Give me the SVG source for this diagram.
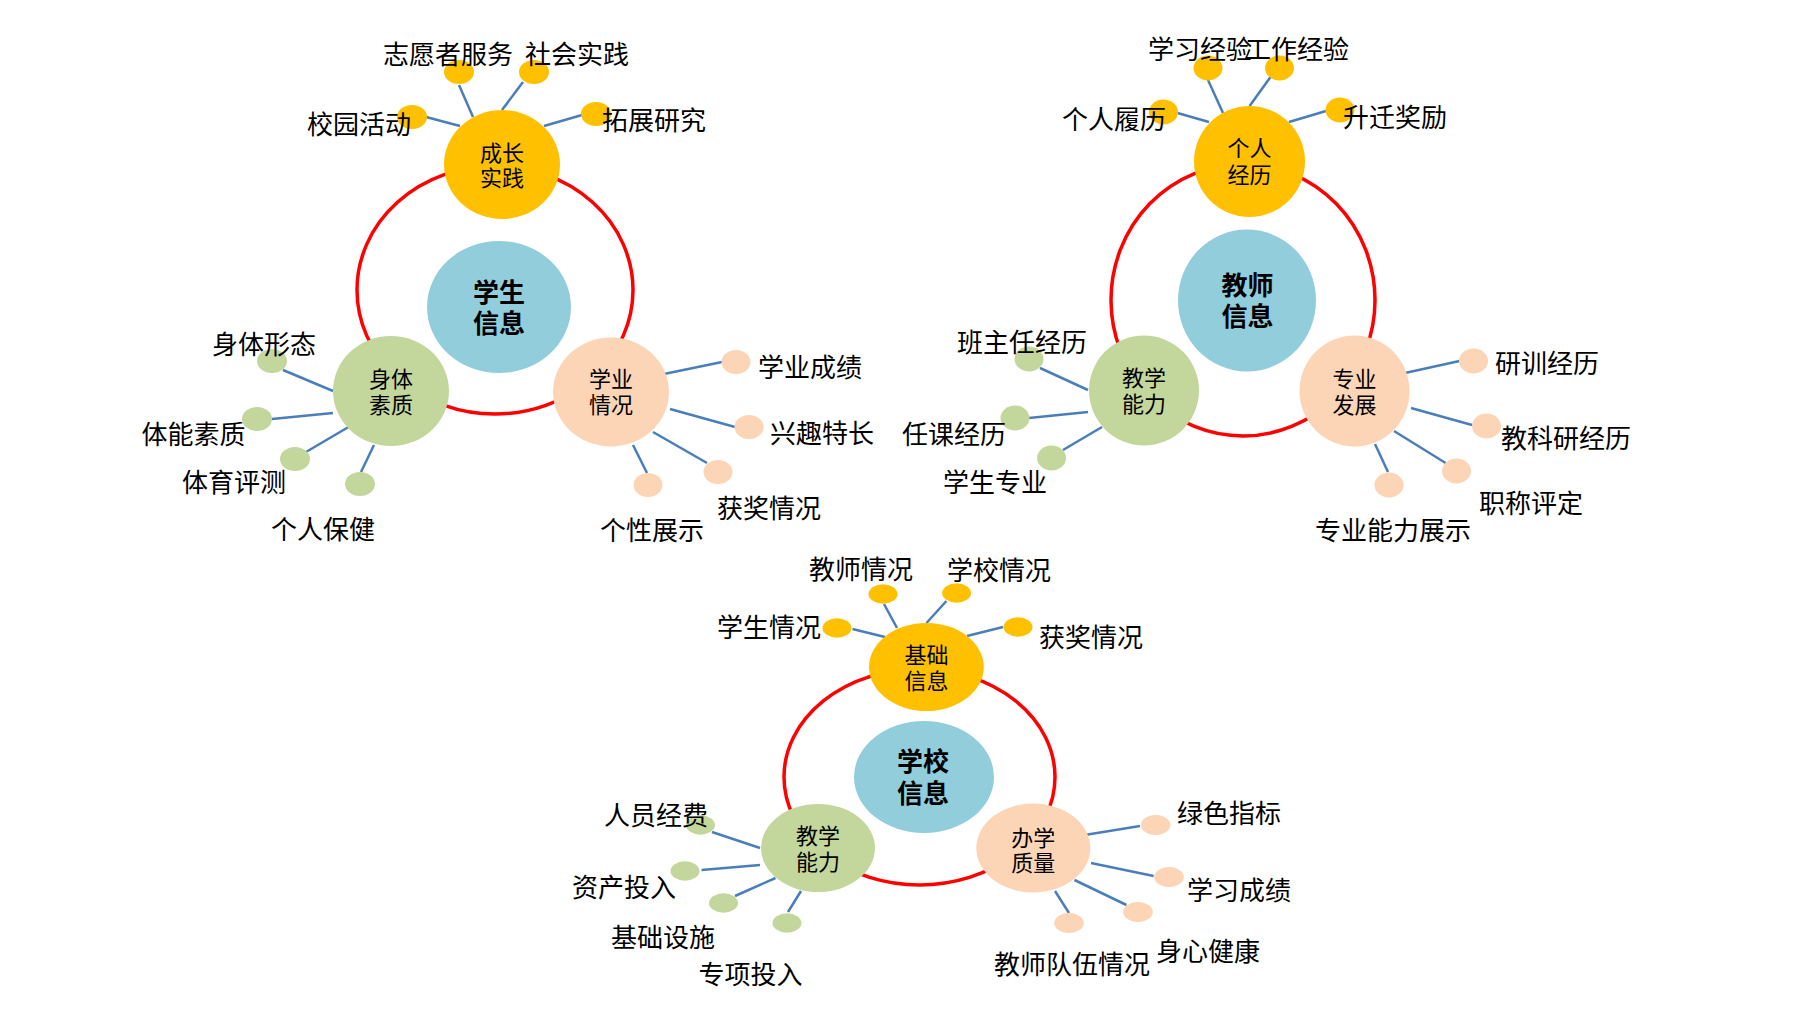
<svg xmlns="http://www.w3.org/2000/svg" width="1798" height="1029" viewBox="0 0 1798 1029">
<style>
.ring{fill:none;stroke:#FF0000;stroke-width:3.5}
.ln{stroke:#4A7EBB;stroke-width:2.5;fill:none}
.org{fill:#FFC000}
.grn{fill:#C3D69B}
.pch{fill:#FBD5B5}
.blu{fill:#92CDDC}
text{font-family:"Noto Sans CJK SC","Noto Sans",sans-serif;fill:#000}
.lb{font-size:26px}
.nd{font-size:22px;text-anchor:middle}
.ct{font-size:26px;font-weight:bold;text-anchor:middle}
</style>
<rect width="1798" height="1029" fill="#FFFFFF"/>
<g id="rings">
<ellipse class="ring" cx="495" cy="290" rx="138" ry="124"/>
<ellipse class="ring" cx="1243" cy="300" rx="132" ry="136"/>
<ellipse class="ring" cx="919.5" cy="777" rx="135.5" ry="108"/>
</g>
<g id="connectors">
<line class="ln" x1="459" y1="85" x2="473" y2="117"/>
<line class="ln" x1="523" y1="82" x2="502" y2="110"/>
<line class="ln" x1="426" y1="117" x2="460" y2="126"/>
<line class="ln" x1="582" y1="115" x2="544" y2="126"/>
<line class="ln" x1="283" y1="370" x2="333" y2="391"/>
<line class="ln" x1="272" y1="419" x2="333" y2="413"/>
<line class="ln" x1="306" y1="452" x2="348.5" y2="427"/>
<line class="ln" x1="361" y1="472" x2="374" y2="445"/>
<line class="ln" x1="664" y1="374" x2="722" y2="362"/>
<line class="ln" x1="670" y1="409" x2="735" y2="427"/>
<line class="ln" x1="653" y1="432" x2="707" y2="463"/>
<line class="ln" x1="633" y1="445" x2="647" y2="473"/>
<line class="ln" x1="1208" y1="80" x2="1223" y2="113"/>
<line class="ln" x1="1270.5" y1="77" x2="1249.6" y2="106"/>
<line class="ln" x1="1177.5" y1="113" x2="1209" y2="122"/>
<line class="ln" x1="1326" y1="111" x2="1289" y2="122"/>
<line class="ln" x1="1040" y1="368" x2="1088" y2="390"/>
<line class="ln" x1="1029" y1="418" x2="1088" y2="412"/>
<line class="ln" x1="1063" y1="450" x2="1102" y2="427"/>
<line class="ln" x1="1405" y1="373" x2="1459.5" y2="361"/>
<line class="ln" x1="1411" y1="408" x2="1472" y2="425"/>
<line class="ln" x1="1394" y1="431" x2="1445.6" y2="463"/>
<line class="ln" x1="1375" y1="444" x2="1388" y2="472"/>
<line class="ln" x1="884" y1="604" x2="897" y2="628"/>
<line class="ln" x1="946.4" y1="601" x2="926.5" y2="623"/>
<line class="ln" x1="852.5" y1="629" x2="885" y2="637"/>
<line class="ln" x1="1003" y1="627" x2="967" y2="636"/>
<line class="ln" x1="712" y1="832" x2="760" y2="848"/>
<line class="ln" x1="701.5" y1="870" x2="760" y2="865"/>
<line class="ln" x1="735" y1="896" x2="775.5" y2="878"/>
<line class="ln" x1="788" y1="912" x2="801" y2="891"/>
<line class="ln" x1="1084.7" y1="835" x2="1140" y2="826"/>
<line class="ln" x1="1091" y1="863" x2="1153.6" y2="876"/>
<line class="ln" x1="1074.5" y1="880" x2="1126.5" y2="905"/>
<line class="ln" x1="1055" y1="891" x2="1069" y2="913"/>
</g>

<!-- Student cluster -->
<g id="student-info"><ellipse class="blu" cx="499" cy="307" rx="72" ry="66"/><text class="ct" x="499" y="301.5">学生<tspan x="499" y="332.5">信息</tspan></text></g>
<g id="growth-practice"><ellipse class="org" cx="502" cy="164.5" rx="58" ry="54.5"/><text class="nd" x="502" y="161">成长<tspan x="502" y="186">实践</tspan></text></g>
<g id="physical-quality"><ellipse class="grn" cx="391" cy="391" rx="58" ry="55"/><text class="nd" x="391" y="386.5">身体<tspan x="391" y="412.5">素质</tspan></text></g>
<g id="study-status"><ellipse class="pch" cx="611" cy="392" rx="58" ry="54.5"/><text class="nd" x="611" y="387">学业<tspan x="611" y="413">情况</tspan></text></g>
<g id="s-volunteer"><ellipse class="org" cx="459" cy="72" rx="15" ry="12"/><text class="lb" x="383" y="63.5">志愿者服务</text></g>
<g id="s-social"><ellipse class="org" cx="534" cy="72" rx="15" ry="12"/><text class="lb" x="525" y="64">社会实践</text></g>
<g id="s-campus"><ellipse class="org" cx="412" cy="117" rx="15" ry="12"/><text class="lb" x="307" y="133.5">校园活动</text></g>
<g id="s-research"><ellipse class="org" cx="596" cy="114" rx="15" ry="12"/><text class="lb" x="602" y="130">拓展研究</text></g>
<g id="s-body-shape"><ellipse class="grn" cx="272" cy="361" rx="15" ry="12"/><text class="lb" x="212" y="353.5">身体形态</text></g>
<g id="s-fitness"><ellipse class="grn" cx="257" cy="419" rx="15" ry="12"/><text class="lb" x="141.5" y="444">体能素质</text></g>
<g id="s-pe-eval"><ellipse class="grn" cx="295" cy="459" rx="15" ry="12"/><text class="lb" x="182" y="491.5">体育评测</text></g>
<g id="s-health"><ellipse class="grn" cx="360" cy="484" rx="15" ry="12"/><text class="lb" x="271" y="538.5">个人保健</text></g>
<g id="s-grades"><ellipse class="pch" cx="736" cy="362" rx="14.5" ry="12"/><text class="lb" x="758" y="376.5">学业成绩</text></g>
<g id="s-interest"><ellipse class="pch" cx="749" cy="427" rx="14.5" ry="12"/><text class="lb" x="770" y="443">兴趣特长</text></g>
<g id="s-awards"><ellipse class="pch" cx="718" cy="472" rx="14.5" ry="12"/><text class="lb" x="717" y="518">获奖情况</text></g>
<g id="s-personality"><ellipse class="pch" cx="648" cy="485" rx="14.5" ry="12"/><text class="lb" x="600" y="540">个性展示</text></g>

<!-- Teacher cluster -->
<g id="teacher-info"><ellipse class="blu" cx="1247" cy="300.5" rx="69" ry="71"/><text class="ct" x="1247.5" y="294.5">教师<tspan x="1247.5" y="325.5">信息</tspan></text></g>
<g id="personal-history"><ellipse class="org" cx="1249.5" cy="161.5" rx="55.5" ry="55.5"/><text class="nd" x="1249.5" y="156">个人<tspan x="1249.5" y="183">经历</tspan></text></g>
<g id="teaching-ability-t"><ellipse class="grn" cx="1144" cy="390.5" rx="55" ry="55"/><text class="nd" x="1144" y="385.5">教学<tspan x="1144" y="411.5">能力</tspan></text></g>
<g id="professional-dev"><ellipse class="pch" cx="1354.5" cy="391" rx="55" ry="55.5"/><text class="nd" x="1354.5" y="387">专业<tspan x="1354.5" y="413">发展</tspan></text></g>
<g id="t-study-exp"><ellipse class="org" cx="1208" cy="68" rx="14.5" ry="12.5"/><text class="lb" x="1148" y="58.5">学习经验</text></g>
<g id="t-work-exp"><ellipse class="org" cx="1279.5" cy="68" rx="14.5" ry="12.5"/><text class="lb" x="1245" y="58.5">工作经验</text></g>
<g id="t-resume"><ellipse class="org" cx="1163.5" cy="112" rx="14.5" ry="12.5"/><text class="lb" x="1062" y="128.5">个人履历</text></g>
<g id="t-promotion"><ellipse class="org" cx="1340" cy="110" rx="14.5" ry="12.5"/><text class="lb" x="1343" y="126.5">升迁奖励</text></g>
<g id="t-headteacher"><ellipse class="grn" cx="1029" cy="359" rx="14.5" ry="12.5"/><text class="lb" x="957" y="351.5">班主任经历</text></g>
<g id="t-courses"><ellipse class="grn" cx="1015" cy="418" rx="14.5" ry="12.5"/><text class="lb" x="902" y="443.5">任课经历</text></g>
<g id="t-major"><ellipse class="grn" cx="1051.6" cy="458" rx="14.5" ry="12.5"/><text class="lb" x="943" y="491.5">学生专业</text></g>
<g id="t-training"><ellipse class="pch" cx="1473.5" cy="361" rx="14.5" ry="12.5"/><text class="lb" x="1495" y="373">研训经历</text></g>
<g id="t-research"><ellipse class="pch" cx="1486.5" cy="426" rx="14.5" ry="12.5"/><text class="lb" x="1501" y="447.5">教科研经历</text></g>
<g id="t-title"><ellipse class="pch" cx="1456.5" cy="471" rx="14.5" ry="12.5"/><text class="lb" x="1479" y="513">职称评定</text></g>
<g id="t-showcase"><ellipse class="pch" cx="1389" cy="485" rx="14.5" ry="12.5"/><text class="lb" x="1315" y="540">专业能力展示</text></g>

<!-- School cluster -->
<g id="school-info"><ellipse class="blu" cx="924" cy="777" rx="70" ry="56"/><text class="ct" x="923" y="771">学校<tspan x="923" y="802.5">信息</tspan></text></g>
<g id="basic-info"><ellipse class="org" cx="926.4" cy="667" rx="57.4" ry="44"/><text class="nd" x="926.4" y="662.5">基础<tspan x="926.4" y="689">信息</tspan></text></g>
<g id="teaching-ability-s"><ellipse class="grn" cx="818" cy="848" rx="57" ry="44"/><text class="nd" x="818" y="843.5">教学<tspan x="818" y="870">能力</tspan></text></g>
<g id="school-quality"><ellipse class="pch" cx="1033.3" cy="848" rx="57" ry="44.5"/><text class="nd" x="1033.3" y="846">办学<tspan x="1033.3" y="871">质量</tspan></text></g>
<g id="c-teachers"><ellipse class="org" cx="883" cy="594" rx="14.5" ry="9.7"/><text class="lb" x="809" y="578.5">教师情况</text></g>
<g id="c-school"><ellipse class="org" cx="956.6" cy="593" rx="14.5" ry="9.7"/><text class="lb" x="947" y="580">学校情况</text></g>
<g id="c-students"><ellipse class="org" cx="837" cy="628" rx="14.5" ry="9.7"/><text class="lb" x="717" y="636.5">学生情况</text></g>
<g id="c-awards"><ellipse class="org" cx="1018" cy="627" rx="14.5" ry="9.7"/><text class="lb" x="1039" y="646.5">获奖情况</text></g>
<g id="c-staff-funds"><ellipse class="grn" cx="700.5" cy="825" rx="14.5" ry="9.7"/><text class="lb" x="604" y="825">人员经费</text></g>
<g id="c-assets"><ellipse class="grn" cx="685" cy="871" rx="14.5" ry="9.7"/><text class="lb" x="572" y="896.5">资产投入</text></g>
<g id="c-facilities"><ellipse class="grn" cx="723.5" cy="903" rx="14.5" ry="9.7"/><text class="lb" x="611" y="946.5">基础设施</text></g>
<g id="c-special"><ellipse class="grn" cx="787" cy="923" rx="14.5" ry="9.7"/><text class="lb" x="698.5" y="983.5">专项投入</text></g>
<g id="c-green"><ellipse class="pch" cx="1155.6" cy="825" rx="14.8" ry="10"/><text class="lb" x="1177" y="823">绿色指标</text></g>
<g id="c-scores"><ellipse class="pch" cx="1169" cy="877" rx="14.8" ry="10"/><text class="lb" x="1187" y="900">学习成绩</text></g>
<g id="c-wellbeing"><ellipse class="pch" cx="1138" cy="912" rx="14.8" ry="10"/><text class="lb" x="1156" y="961">身心健康</text></g>
<g id="c-faculty"><ellipse class="pch" cx="1069" cy="923" rx="14.8" ry="10"/><text class="lb" x="994" y="974">教师队伍情况</text></g>
</svg>
